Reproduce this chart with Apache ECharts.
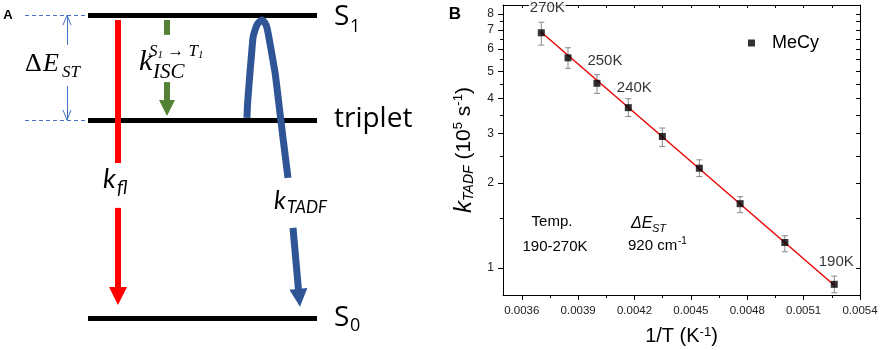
<!DOCTYPE html>
<html>
<head>
<meta charset="utf-8">
<script src="https://cdn.jsdelivr.net/npm/echarts@6/dist/echarts.min.js"></script>
<style>
html, body { margin: 0; padding: 0; background: #fff; }
#main { width: 881px; height: 350px; }
</style>
</head>
<body>
<div id="main"></div>
<script>
// ---- panel B: k_TADF vs 1/T ----
var temps = [270, 260, 250, 240, 230, 220, 210, 200, 190];
var invT = [0.003704, 0.003846, 0.004, 0.004167, 0.004348, 0.004545, 0.004762, 0.005, 0.005263];
var kTADF = [6.85, 5.58, 4.53, 3.71, 2.93, 2.26, 1.69, 1.23, 0.873];
var errHigh = [7.47, 6.06, 4.86, 3.99, 3.14, 2.42, 1.79, 1.30, 0.934];
var errLow = [6.19, 5.12, 4.17, 3.45, 2.70, 2.11, 1.57, 1.14, 0.815];
var fitX = [0.003704, 0.005263];
var fitY = [6.88, 0.866];
var labelTemps = [270, 250, 240, 190];
var xMajor = [0.0036, 0.0039, 0.0042, 0.0045, 0.0048, 0.0051, 0.0054];
var xMinor = [0.00375, 0.00405, 0.00435, 0.00465, 0.00495, 0.00525];
var yMajor = [1, 2, 3, 4, 5, 6, 7, 8];
var yMinor = [1.5, 2.5, 3.5, 4.5, 5.5, 6.5, 7.5];

// ---- panel A: energy diagram (x: diagram units, y: energy units) ----
var levelNames = ['S0', 'triplet', 'S1'];
var levelE = [0, 65.4, 100];
var levelX = [88, 317];
var guideX = [25, 88];
var tadfX = [247, 247.5, 249, 250, 251.5, 253, 255, 257.5, 261.7, 265, 267, 269, 272, 275, 277, 279, 283, 288];
var tadfE = [66.1, 70.4, 77.0, 81.2, 86.9, 92.5, 95.1, 97.1, 98.4, 97.4, 95.8, 92.5, 86.9, 81.2, 76.0, 70.4, 59.5, 46.3];

var sans = '"Liberation Sans", Arial, sans-serif';
var serif = '"Liberation Serif", "DejaVu Serif", serif';
var cal = 'Lato, "Open Sans", sans-serif';

var chart = echarts.init(document.getElementById('main'));

var labelOffsets = { 270: [6, -25], 250: [8, -22], 240: [6, -20], 190: [2, -22] };

var points = invT.map(function (x, i) {
    var item = { value: [x, kTADF[i]] };
    if (labelTemps.indexOf(temps[i]) >= 0) {
        item.label = {
            show: true,
            formatter: temps[i] + 'K',
            offset: labelOffsets[temps[i]],
            backgroundColor: temps[i] === 270 ? '#fff' : 'transparent',
            padding: [0, 1]
        };
    }
    return item;
});

var errData = invT.map(function (x, i) {
    return [x, errLow[i], errHigh[i]];
});

function renderErr(params, api) {
    var top = api.coord([api.value(0), api.value(2)]);
    var bot = api.coord([api.value(0), api.value(1)]);
    var w = 3;
    var st = { stroke: '#8a8a8a', lineWidth: 1 };
    return {
        type: 'group',
        children: [
            { type: 'line', shape: { x1: top[0], y1: top[1], x2: bot[0], y2: bot[1] }, style: st },
            { type: 'line', shape: { x1: top[0] - w, y1: top[1], x2: top[0] + w, y2: top[1] }, style: st },
            { type: 'line', shape: { x1: bot[0] - w, y1: bot[1], x2: bot[0] + w, y2: bot[1] }, style: st }
        ]
    };
}

function seg(x1, y1, x2, y2) {
    return { coords: [[x1, y1], [x2, y2]] };
}

function txt(x, y, text, font, opts) {
    var o = opts || {};
    return {
        type: 'text', x: x, y: y, z: 100,
        style: {
            text: text, font: font, fill: o.fill || '#000',
            align: o.align || 'left', verticalAlign: 'middle', rich: o.rich
        }
    };
}

var blackAxis = { show: true, onZero: false, lineStyle: { color: '#000', width: 1 } };
var xBase = { gridIndex: 0, type: 'value', min: 0.0035, max: 0.0054, splitLine: { show: false } };
var yBase = { gridIndex: 0, type: 'log', logBase: 10, min: 0.8, max: 8.6, splitLine: { show: false } };
var hiddenA = { gridIndex: 1, type: 'value', show: false };

var option = {
    animation: false,
    grid: [
        { left: 503, right: 21, top: 5, bottom: 55, containLabel: false, outerBoundsMode: 'none' },
        { left: 0, top: 0, width: 440, height: 350, containLabel: false, outerBoundsMode: 'none' }
    ],
    legend: {
        data: ['MeCy'], left: 748, top: 34, padding: 0,
        icon: 'rect', itemWidth: 7, itemHeight: 7,
        textStyle: { fontSize: 18, fontFamily: sans, color: '#000', padding: [0, 0, 0, 12] }
    },
    xAxis: [
        Object.assign({}, xBase, {
            position: 'bottom',
            axisLine: blackAxis,
            axisTick: { customValues: xMajor, length: 5, lineStyle: { color: '#000' } },
            axisLabel: {
                customValues: xMajor, fontSize: 11.5, fontFamily: sans, color: '#222', margin: 10,
                formatter: function (v) { return v.toFixed(4); }
            },
            name: '1/T (K{sup|-1})', nameLocation: 'middle', nameGap: 31,
            nameTextStyle: {
                fontSize: 20, fontFamily: sans, color: '#000',
                rich: { sup: { fontSize: 13, fontFamily: sans, verticalAlign: 'top', lineHeight: 10 } }
            }
        }),
        Object.assign({}, xBase, {
            position: 'bottom',
            axisLine: { show: false, onZero: false },
            axisTick: { customValues: xMinor, length: 3, lineStyle: { color: '#000' } },
            axisLabel: { show: false }
        }),
        Object.assign({}, xBase, {
            position: 'top',
            axisLine: blackAxis,
            axisTick: { customValues: xMajor.concat(xMinor), inside: true, length: 3, lineStyle: { color: '#000' } },
            axisLabel: { show: false }
        }),
        Object.assign({}, hiddenA, { min: 0, max: 440 })
    ],
    yAxis: [
        Object.assign({}, yBase, {
            position: 'left',
            axisLine: blackAxis,
            axisTick: { customValues: yMajor, length: 5, lineStyle: { color: '#000' } },
            axisLabel: { customValues: yMajor, fontSize: 12, fontFamily: sans, color: '#222', margin: 9 },
            name: '{k|k}{sub|TADF} (10{sup|5} s{sup|-1})',
            nameLocation: 'middle', nameGap: 27, nameRotate: 90,
            nameTextStyle: {
                fontSize: 21, fontFamily: sans, color: '#000',
                rich: {
                    k: { fontSize: 24, fontFamily: sans, fontStyle: 'italic' },
                    sub: { fontSize: 14, fontFamily: sans, fontStyle: 'italic', verticalAlign: 'bottom', lineHeight: 6 },
                    sup: { fontSize: 13, fontFamily: sans, verticalAlign: 'top', lineHeight: 8 }
                }
            }
        }),
        Object.assign({}, yBase, {
            position: 'left',
            axisLine: { show: false, onZero: false },
            axisTick: { customValues: yMinor, length: 3, lineStyle: { color: '#000' } },
            axisLabel: { show: false }
        }),
        Object.assign({}, yBase, {
            position: 'right',
            axisLine: blackAxis,
            axisTick: { customValues: yMajor.concat(yMinor), inside: true, length: 4, lineStyle: { color: '#000' } },
            axisLabel: { show: false }
        }),
        Object.assign({}, hiddenA, { min: -10.5, max: 105 })
    ],
    series: [
        {
            type: 'custom', name: 'err', xAxisIndex: 0, yAxisIndex: 0,
            renderItem: renderErr, data: errData, z: 2, silent: true
        },
        {
            type: 'line', name: 'fit', xAxisIndex: 0, yAxisIndex: 0,
            data: fitX.map(function (x, i) { return [x, fitY[i]]; }),
            symbol: 'none', lineStyle: { color: '#e60000', width: 1.4 }, z: 3
        },
        {
            type: 'scatter', name: 'MeCy', xAxisIndex: 0, yAxisIndex: 0,
            data: points, symbol: 'rect', symbolSize: 7,
            itemStyle: { color: '#000' }, z: 4,
            label: { position: 'inside', fontSize: 15, fontFamily: sans, color: '#000' }
        },
        // energy levels
        {
            type: 'lines', coordinateSystem: 'cartesian2d', xAxisIndex: 3, yAxisIndex: 3,
            data: levelE.map(function (e) { return seg(levelX[0], e, levelX[1], e); }),
            lineStyle: { color: '#000', width: 5, opacity: 1 }, z: 1
        },
        // dashed guides and delta-E arrow
        {
            type: 'lines', coordinateSystem: 'cartesian2d', xAxisIndex: 3, yAxisIndex: 3,
            data: [seg(guideX[0], levelE[1], guideX[1], levelE[1]), seg(guideX[0], levelE[2], guideX[1], levelE[2])],
            lineStyle: { color: '#4472c4', width: 1, type: [4, 3], opacity: 1 }, z: 1
        },
        {
            type: 'lines', coordinateSystem: 'cartesian2d', xAxisIndex: 3, yAxisIndex: 3,
            data: [
                seg(67, levelE[2], 67, 90.2), seg(67, 76.6, 67, levelE[1]),
                seg(67, levelE[2], 63, 96.7), seg(67, levelE[2], 71, 96.7),
                seg(67, levelE[1], 63, 68.7), seg(67, levelE[1], 71, 68.7)
            ],
            lineStyle: { color: '#4472c4', width: 1, opacity: 1 }, z: 1
        },
        // fluorescence (red)
        {
            type: 'lines', coordinateSystem: 'cartesian2d', xAxisIndex: 3, yAxisIndex: 3,
            data: [seg(118, 98.4, 118, 51.2)],
            lineStyle: { color: '#ff0000', width: 6, opacity: 1 }, z: 3
        },
        {
            type: 'lines', coordinateSystem: 'cartesian2d', xAxisIndex: 3, yAxisIndex: 3,
            data: [seg(118, 36.4, 118, 7.3)],
            symbol: ['none', 'triangle'], symbolSize: [1, 18],
            lineStyle: { color: '#ff0000', width: 6, opacity: 1 }, z: 3
        },
        // ISC (green)
        {
            type: 'lines', coordinateSystem: 'cartesian2d', xAxisIndex: 3, yAxisIndex: 3,
            data: [seg(167, 98.4, 167, 93.5)],
            lineStyle: { color: '#548235', width: 6, opacity: 1 }, z: 3
        },
        {
            type: 'lines', coordinateSystem: 'cartesian2d', xAxisIndex: 3, yAxisIndex: 3,
            data: [seg(167, 77.9, 167, 69.4)],
            symbol: ['none', 'triangle'], symbolSize: [1, 16],
            lineStyle: { color: '#548235', width: 6, opacity: 1 }, z: 3
        },
        // TADF (blue)
        {
            type: 'line', xAxisIndex: 3, yAxisIndex: 3,
            data: tadfX.map(function (x, i) { return [x, tadfE[i]]; }),
            smooth: 0.2, symbol: 'none',
            lineStyle: { color: '#2f5597', width: 7, cap: 'butt', join: 'round' }, z: 3
        },
        {
            type: 'lines', coordinateSystem: 'cartesian2d', xAxisIndex: 3, yAxisIndex: 3,
            data: [seg(293, 29.8, 299.2, 6.7)],
            symbol: ['none', 'triangle'], symbolSize: [1, 18],
            lineStyle: { color: '#2f5597', width: 7, opacity: 1 }, z: 3
        }
    ],
    graphic: [
        // panel A labels
        txt(8, 15, 'A', 'bold 13px ' + sans, { align: 'center' }),
        txt(334, 17, 'S', '28px "Open Sans"'),
        txt(350, 27, '1', '18px "Open Sans"'),
        txt(334, 119, 'triplet', '28px "Open Sans"'),
        txt(334, 318, 'S', '28px "Open Sans"'),
        txt(350, 326, '0', '18px "Open Sans"'),
        txt(25, 64, '\u0394', '26px ' + serif),
        txt(43, 64, 'E', 'italic 26px ' + serif),
        txt(62, 73, 'ST', 'italic 17px ' + serif),
        txt(139, 62, 'k', 'italic 30px ' + serif),
        txt(149, 52, '{s|S}{n|1}{s| \u2192 T}{n|1}', 'italic 17px ' + serif, {
            rich: {
                s: { font: 'italic 17px ' + serif },
                n: { font: 'italic 11px ' + serif, verticalAlign: 'bottom', lineHeight: 6 }
            }
        }),
        txt(153, 72, 'ISC', 'italic 21px ' + serif),
        txt(103, 179, 'k', 'italic 27px ' + cal),
        txt(117, 188, 'fl', 'italic 19px ' + cal),
        txt(274, 201, 'k', 'italic 25px ' + cal),
        txt(287, 208, 'TADF', 'italic 17px ' + cal),
        // panel B labels
        txt(455, 14, 'B', 'bold 17px ' + sans, { align: 'center' }),
        txt(552, 222, 'Temp.', '15px ' + sans, { align: 'center' }),
        txt(555, 247, '190-270K', '15px ' + sans, { align: 'center' }),
        txt(631, 224, '\u0394E', 'italic 16px ' + sans),
        txt(652, 229, 'ST', 'italic 11px ' + sans),
        txt(628, 246, '920 cm', '15px ' + sans),
        txt(678, 241, '-1', '10px ' + sans)
    ]
};

chart.setOption(option);
window.addEventListener('resize', chart.resize);
</script>
</body>
</html>
